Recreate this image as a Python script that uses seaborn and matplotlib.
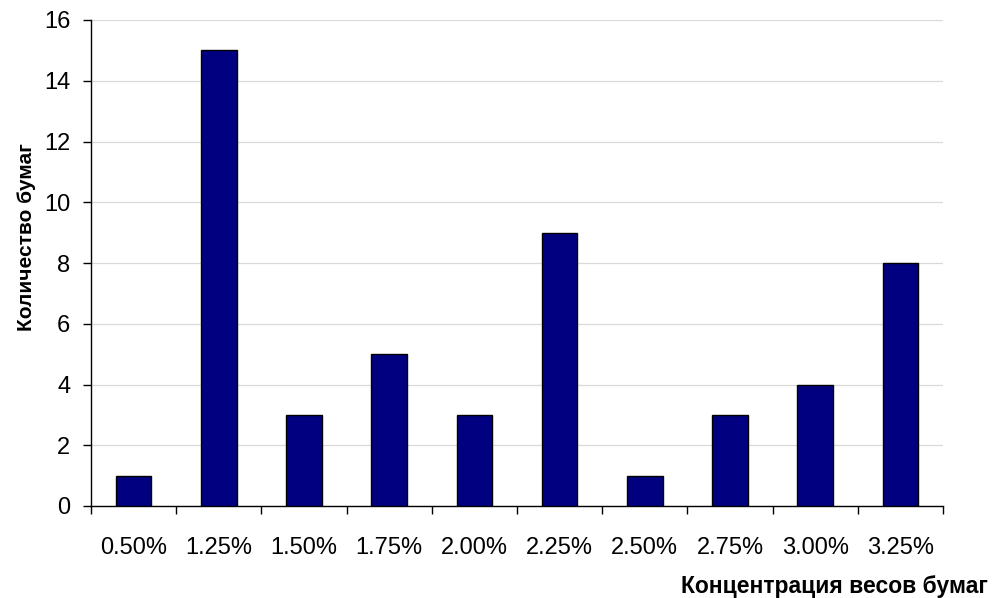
import matplotlib
matplotlib.use("Agg")
import matplotlib.pyplot as plt
import seaborn as sns
import numpy as np

categories = ["0.50%", "1.25%", "1.50%", "1.75%", "2.00%", "2.25%", "2.50%", "2.75%", "3.00%", "3.25%"]
counts = [1, 15, 3, 5, 3, 9, 1, 3, 4, 8]
y_ticks = [0, 2, 4, 6, 8, 10, 12, 14, 16]
x_label = "Концентрация весов бумаг"
y_label = "Количество бумаг"

sns.set_theme(style="white")
plt.rcParams['font.family'] = ['Liberation Sans', 'DejaVu Sans']

fig = plt.figure(figsize=(9.96, 5.98), dpi=100)
ax = fig.add_axes([91/996, 1 - 506/598, (943 - 91)/996, (506 - 20)/598])

sns.barplot(x=categories, y=counts, color="#000080", edgecolor="black",
            linewidth=1.0, width=0.42, saturation=1, ax=ax, zorder=3)

ax.set_xlim(-0.5, len(categories) - 0.5)
ax.set_ylim(0, 16)
ax.set_yticks(y_ticks)
ax.set_yticklabels([str(v) for v in y_ticks])
ax.yaxis.grid(True, color="#d9d9d9", linewidth=0.9, zorder=0)
ax.set_axisbelow(True)

for s in ["top", "right"]:
    ax.spines[s].set_visible(False)
for s in ["left", "bottom"]:
    ax.spines[s].set_color("black")
    ax.spines[s].set_linewidth(1.0)

ax.set_xticks(np.arange(-0.5, len(categories), 1.0), minor=True)
ax.tick_params(axis="x", which="major", length=0, pad=22, labelsize=17, colors="black")
ax.tick_params(axis="x", which="minor", length=6, width=1.0, direction="out", color="black", bottom=True)
ax.tick_params(axis="y", which="major", length=6, width=1.0, direction="out", left=True,
               pad=9, labelsize=17, colors="black")

ax.set_xlabel("")
ax.set_ylabel("")
fig.text(27/996, 1 - 237/598, y_label, rotation=90, ha="center", va="center",
         fontsize=15, fontweight="bold", color="black")
fig.text(988/996, 1 - 586/598, x_label, ha="right", va="center",
         fontsize=16.5, fontweight="bold", color="black")

fig.savefig("out.png", dpi=100, facecolor="white")
